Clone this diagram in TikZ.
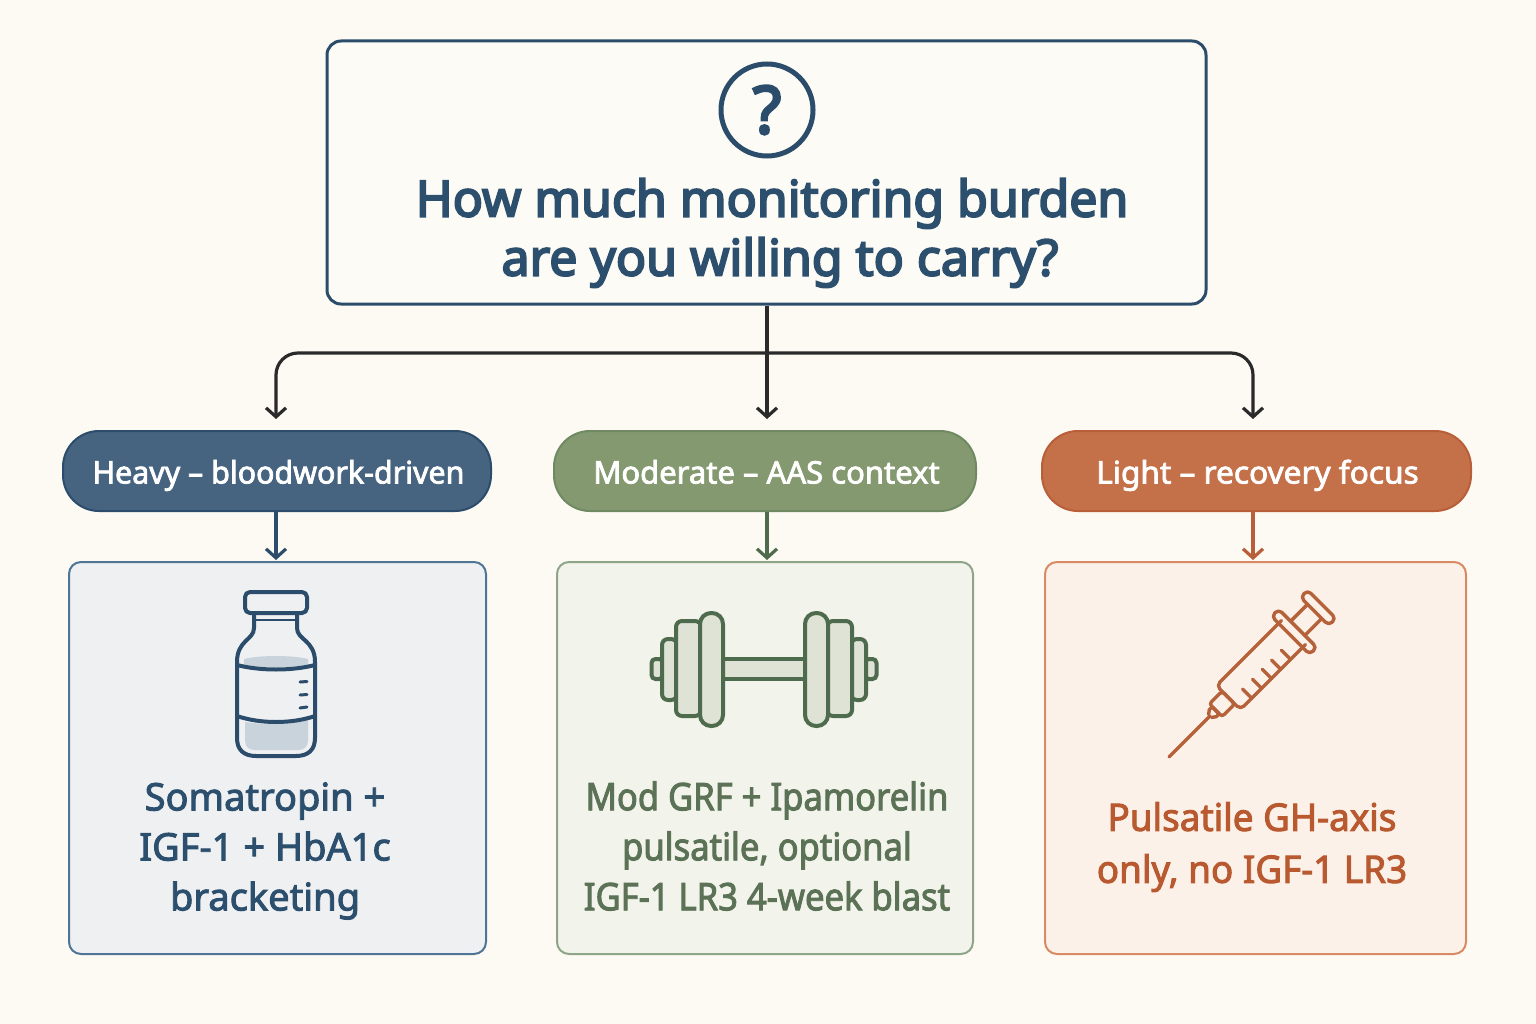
\documentclass[tikz,border=0pt]{standalone}
\usepackage{fontspec}
\setmainfont{Noto Sans}
\newfontfamily\medf[FakeBold=2.5]{Noto Sans}
\newfontfamily\medh[FakeBold=2.5,FakeStretch=0.98]{Noto Sans}
\newfontfamily\medl[FakeBold=2.5,FakeStretch=1.02]{Noto Sans}
\newfontfamily\medg[FakeBold=2.5,FakeStretch=0.91]{Noto Sans}
\newfontfamily\medo[FakeBold=2.5,FakeStretch=0.97]{Noto Sans}
\newfontfamily\boldf[FakeBold=4]{Noto Sans}
\usetikzlibrary{arrows.meta,calc}
\definecolor{bg}{HTML}{FDFAF3}
\definecolor{navy}{HTML}{2B4D6B}
\definecolor{bluefill}{HTML}{466480}
\definecolor{bluepanel}{HTML}{EEF0F2}
\definecolor{blueedge}{HTML}{4F7596}
\definecolor{bluetext}{HTML}{2C4F6E}
\definecolor{vialfill}{HTML}{C8D3DC}
\definecolor{greenfill}{HTML}{84996F}
\definecolor{greenedge}{HTML}{6F8A62}
\definecolor{greenpanel}{HTML}{F2F3EA}
\definecolor{greenline}{HTML}{8FA58A}
\definecolor{greentext}{HTML}{5B7256}
\definecolor{greenicon}{HTML}{4F6B4D}
\definecolor{greenshade}{HTML}{DFE3D6}
\definecolor{orgfill}{HTML}{C4714A}
\definecolor{orgedge}{HTML}{B85E38}
\definecolor{orgpanel}{HTML}{FCF1E8}
\definecolor{orgline}{HTML}{D88A64}
\definecolor{orgtext}{HTML}{B8592F}
\definecolor{orgicon}{HTML}{B5613A}
\definecolor{ink}{HTML}{2A2A2A}
\tikzset{
  x=1pt,y=-1pt,
  pill/.style={rounded corners=36pt,line width=2pt,inner sep=0pt,text=white,minimum height=80pt,
    text height=25pt,text depth=0pt},
  panel/.style={rounded corners=12pt,line width=2pt,inner sep=0pt,minimum height=392pt},
  arr/.style={line width=3.2pt,-{Straight Barb[length=9pt,width=20pt,line width=3.2pt]}},
  paneltext/.style={align=center,inner sep=0pt,font=\medf\fontsize{38}{50}\selectfont},
  vial/.style={navy,line width=4pt,line join=round,line cap=round},
  bell/.style={draw=greenicon,fill=greenshade,line width=4pt,rounded corners=6pt},
  syr/.style={orgicon,line width=3.4pt,line join=round,line cap=round},
}
\begin{document}
\begin{tikzpicture}
\useasboundingbox (0,0) rectangle (1536,1024);
\fill[bg] (0,0) rectangle (1536,1024);
% question box
\node[draw=navy,line width=3pt,fill=bg!80!white,rounded corners=14pt,inner sep=0pt,
  minimum width=879pt,minimum height=263pt] (qbox) at (766.5,172.5) {};
\node[draw=navy,line width=5pt,circle,minimum size=92pt,inner sep=0pt,text=navy,
  font=\boldf\fontsize{66}{68}\selectfont] (qmark) at (767,110) {?};
\node[text=bluetext,align=center,inner sep=0pt,font=\boldf\fontsize{50}{59}\selectfont] (question) at (772,233)
  {How much monitoring burden\\\hspace*{16pt}are you willing to carry?};
% pills
\node[pill,draw=navy,fill=bluefill,minimum width=428pt,font=\medh\fontsize{31}{36}\selectfont] (heavy) at (277,471) {\hspace*{3pt}Heavy – bloodwork-driven};
\node[pill,draw=greenedge,fill=greenfill,minimum width=422pt,font=\medf\fontsize{31}{36}\selectfont] (moderate) at (765,471) {\hspace*{3pt}Moderate – AAS context};
\node[pill,draw=orgedge,fill=orgfill,minimum width=429pt,font=\medl\fontsize{31}{36}\selectfont] (light) at (1256.5,471) {\hspace*{2pt}Light – recovery focus};
% panels
\node[panel,draw=blueedge,fill=bluepanel,minimum width=417pt] (pheavy) at (277.5,758) {};
\node[panel,draw=greenline,fill=greenpanel,minimum width=416pt] (pmod) at (765,758) {};
\node[panel,draw=orgline,fill=orgpanel,minimum width=421pt] (plight) at (1255.5,758) {};
\node[paneltext,text=bluetext] (t1) at (265,851) {Somatropin +\\IGF-1 + HbA1c\\bracketing};
\node[paneltext,text=greentext,font=\medg\fontsize{38}{50}\selectfont] (t2) at (767,846) {Mod GRF + Ipamorelin\\pulsatile, optional\\IGF-1 LR3 4-week blast};
\node[paneltext,text=orgtext,font=\medo\fontsize{38}{52}\selectfont] (t3) at (1252,847) {Pulsatile GH-axis\\only, no IGF-1 LR3};
% connectors
\coordinate (hx) at (276,353);
\coordinate (mx) at (767,353);
\coordinate (lx) at (1253,353);
\draw[arr,ink,shorten >=11pt] (qbox.south -| mx) -- (moderate.north -| mx);
\draw[arr,ink,rounded corners=22pt,shorten >=11pt] (mx) -- (hx) -- (heavy.north -| hx);
\draw[arr,ink,rounded corners=22pt,shorten >=11pt] (mx) -- (lx) -- (light.north -| lx);
\draw[arr,navy,shorten >=1pt] (heavy.south -| hx) -- (pheavy.north -| hx);
\draw[arr,greenicon,shorten >=1pt] (moderate.south -| mx) -- (pmod.north -| mx);
\draw[arr,orgedge,shorten >=1pt] (light.south -| lx) -- (plight.north -| lx);
% vial
\fill[vialfill] (245,722) .. controls (265,725) and (290,725) .. (308,720) -- (308,740)
  .. controls (308,747) and (304,750) .. (298,750) -- (255,750) .. controls (249,750) and (245,747) .. (245,740) -- cycle;
\fill[vialfill] (244,659) .. controls (260,655) and (292,655) .. (308,659) -- (308,665) .. controls (290,668) and (262,668) .. (244,665) -- cycle;
\draw[vial,rounded corners=5pt] (245,592) rectangle (307,613);
\draw[vial] (254,613) -- (254,628) .. controls (254,640) and (237,640) .. (237,662) -- (237,738)
  .. controls (237,750) and (244,756) .. (256,756) -- (296,756) .. controls (308,756) and (315,750) .. (315,738)
  -- (315,662) .. controls (315,640) and (297,640) .. (297,628) -- (297,613);
\draw[vial,line width=2.5pt] (254,620) -- (297,620);
\draw[vial] (237,665) .. controls (260,671) and (292,671) .. (315,665);
\draw[vial] (237,716) .. controls (260,724) and (292,724) .. (315,716);
\draw[vial,line width=3pt] (300,682) -- (307,681.5);
\draw[vial,line width=3pt] (300,695) -- (307,694.5);
\draw[vial,line width=3pt] (300,708) -- (307,707);
% dumbbell
\draw[bell,rounded corners=0pt] (723,659) rectangle (805,679);
\draw[bell,rounded corners=4pt] (651.5,659) rectangle (663,679);
\draw[bell,rounded corners=4pt] (865,659) rectangle (876.5,679);
\draw[bell] (662,639) rectangle (677,700);
\draw[bell] (851,639) rectangle (866,700);
\draw[bell] (676,621) rectangle (701,716);
\draw[bell] (827,621) rectangle (852,716);
\draw[bell,rounded corners=11pt] (700,613) rectangle (723,726);
\draw[bell,rounded corners=11pt] (805,613) rectangle (828,726);
% syringe
\begin{scope}[shift={(1169,757)},rotate=45]
  \draw[syr] (0,0) -- (58,0);
  \draw[syr] (58,-2) -- (62,-5) -- (66,-5) -- (66,5) -- (62,5) -- (58,2);
  \draw[syr,rounded corners=3pt] (66,-9) -- (84,-9) -- (84,9) -- (66,9) -- cycle;
  \draw[syr,rounded corners=5pt] (176,-17) -- (84,-17) -- (84,17) -- (176,17);
  \draw[syr,rounded corners=4.5pt] (172,-27) rectangle (182,27);
  \draw[syr] (182,-10) -- (206,-10);
  \draw[syr] (182,10) -- (206,10);
  \draw[syr,rounded corners=4.5pt] (206,-20) rectangle (216,20);
  \foreach \u in {100,114,128,141,155} \draw[syr] (\u,17) -- (\u,4);
\end{scope}
\end{tikzpicture}
\end{document}
